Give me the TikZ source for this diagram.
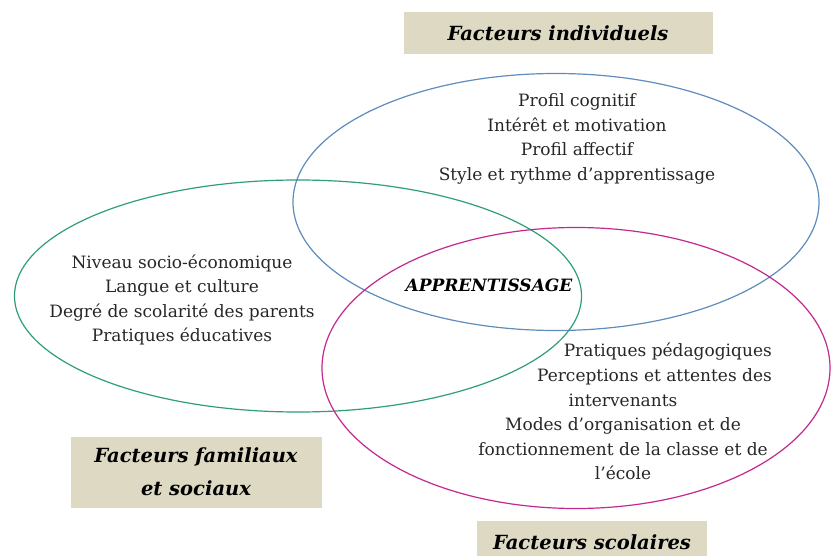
\documentclass[tikz,border=0pt]{standalone}
\usepackage{fontspec}
\setmainfont{DejaVu Serif}
\usepackage{tikz}
\usetikzlibrary{shapes,positioning}
\definecolor{indivBlue}{HTML}{5E8CBC}
\definecolor{socialGreen}{HTML}{2E9E78}
\definecolor{schoolPink}{HTML}{C4288E}
\definecolor{sandBox}{HTML}{DDD9C3}

\begin{document}
\begin{tikzpicture}[x=1pt,y=-1pt]
  \tikzstyle{zone} = [draw, line width=1.2pt, ellipse, inner sep=0pt];
  \tikzstyle{factor} = [fill=sandBox, rectangle, inner sep=0pt, align=center, font={\fontsize{19.5}{33}\selectfont\bfseries\itshape}];
  \tikzstyle{itemList} = [align=center, inner sep=0pt, text=black!85, font={\fontsize{17}{24.5}\selectfont}];
  \useasboundingbox (0,0) rectangle (832,556);

  \node[zone, draw=indivBlue, minimum width=526, minimum height=257, name=indiv] at (556,202) {};
  \node[zone, draw=socialGreen, minimum width=567, minimum height=232, name=social] at (298,296) {};
  \node[zone, draw=schoolPink, minimum width=508, minimum height=281, name=school] at (576,368) {};

  \node[itemList, name=indivList] at (577,139) {Profil cognitif\\Intérêt et motivation\\Profil affectif\\Style et rythme d’apprentissage};
  \node[itemList, name=socialList] at (182,300) {Niveau socio-économique\\Langue et culture\\Degré de scolarité des parents\\Pratiques éducatives};
  \node[itemList, align=right, anchor=east, name=pedaList] at (772,364) {Pratiques pédagogiques\\Perceptions et attentes des};
  \node[itemList, name=orgaList] at (623,437) {intervenants\\Modes d’organisation et de\\fonctionnement de la classe et de\\l’école};

  \node[font={\fontsize{17}{20}\selectfont\bfseries\itshape}, name=core] at (489,285) {APPRENTISSAGE};

  \node[factor, minimum width=309, minimum height=42, name=indivTitle] at (558,33) {Facteurs individuels};
  \node[factor, minimum width=251, minimum height=71, name=socialTitle] at (196,472) {Facteurs familiaux\\et sociaux};
  \node[factor, minimum width=230, minimum height=42, name=schoolTitle] at (592,542) {Facteurs scolaires};
\end{tikzpicture}
\end{document}
